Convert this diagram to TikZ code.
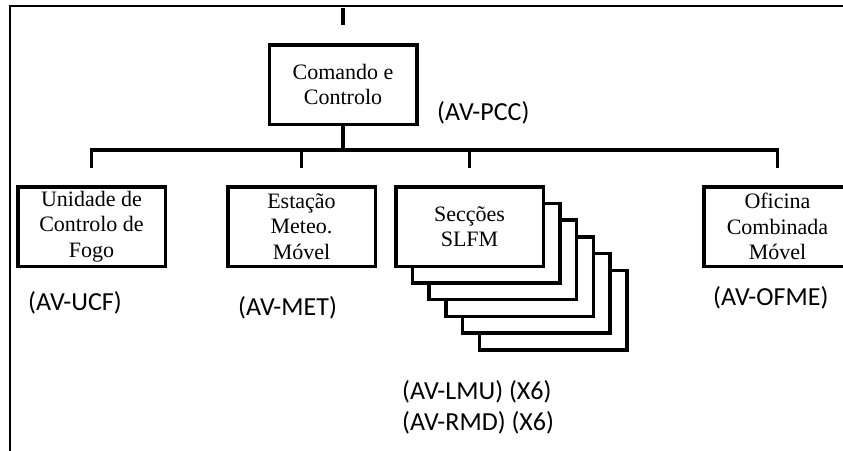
\documentclass[tikz,border=0pt]{standalone}
\usepackage{fontspec}
\setmainfont{Liberation Serif}
\newfontfamily\lblfont{Carlito}
\usetikzlibrary{calc}
\begin{document}
\begin{tikzpicture}[x=1pt,y=-1pt,
  box/.style={draw, line width=3.5pt, fill=white, minimum width=147.5pt, minimum height=79.5pt,
    inner sep=0pt, align=center, font=\fontsize{22}{25.5}\selectfont},
  conn/.style={line width=3.5pt, line join=miter},
  frame/.style={line width=2.2pt, line join=miter},
  lbl/.style={anchor=west, inner sep=0pt, font=\lblfont\fontsize{26}{31}\selectfont}
]
\useasboundingbox (0,0) rectangle (843,450);
\clip (0,0) rectangle (843,450);
\fill[white] (0,0) rectangle (843,450);

% frame
\coordinate (fr) at (850,6);
\coordinate (fc) at (10.3,6);
\coordinate (fb) at (10.3,455);
\draw[frame] (fr) -- (fc) -- (fb);

% top box
\node[box] (cmd) at (343,84.5) {Comando e\\Controlo};
\coordinate (topA) at (343,8);
\coordinate (topB) at (343,25);
\draw[conn] (topA) -- (topB);
\node[lbl] (pcc) at (437,113) {(AV-PCC)};

% row of boxes
\node[box] (ucf) at (91.5,226.5) {Unidade de\\Controlo de\\Fogo};
\node[box] (met) at (301.5,226.5) {Estação\\Meteo.\\Móvel};
\foreach \k in {5,4,3,2,1} {
  \node[box] (sec\k) at ({469.5+16.7*\k},{226.5+16.7*\k}) {};
}
\node[box] (sec) at (469.5,226.5) {Secções\\SLFM};
\node[box] (ofme) at (777.5,226.5) {Oficina\\Combinada\\Móvel};

% bus
\coordinate (bus) at (343,150);
\coordinate (b1) at (ucf.north |- bus);
\coordinate (b4) at (ofme.north |- bus);
\coordinate (s1) at ($(ucf.north)+(0,-17)$);
\coordinate (s2) at ($(met.north)+(0,-17)$);
\coordinate (s3) at ($(sec.north)+(0,-17)$);
\coordinate (s4) at ($(ofme.north)+(0,-17)$);
\draw[conn] (cmd.south) -- (bus);
\draw[conn] (s1) -- (b1) -- (b4) -- (s4);
\draw[conn] (s2 |- bus) -- (s2);
\draw[conn] (s3 |- bus) -- (s3);

% labels
\node[lbl] (lucf) at (28,303) {(AV-UCF)};
\node[lbl] (lmet) at (238,308) {(AV-MET)};
\node[lbl] (lofme) at (713,298) {(AV-OFME)};
\node[lbl] (llmu) at (402,392) {(AV-LMU) (X6)};
\node[lbl] (lrmd) at (402,423) {(AV-RMD) (X6)};
\end{tikzpicture}
\end{document}
